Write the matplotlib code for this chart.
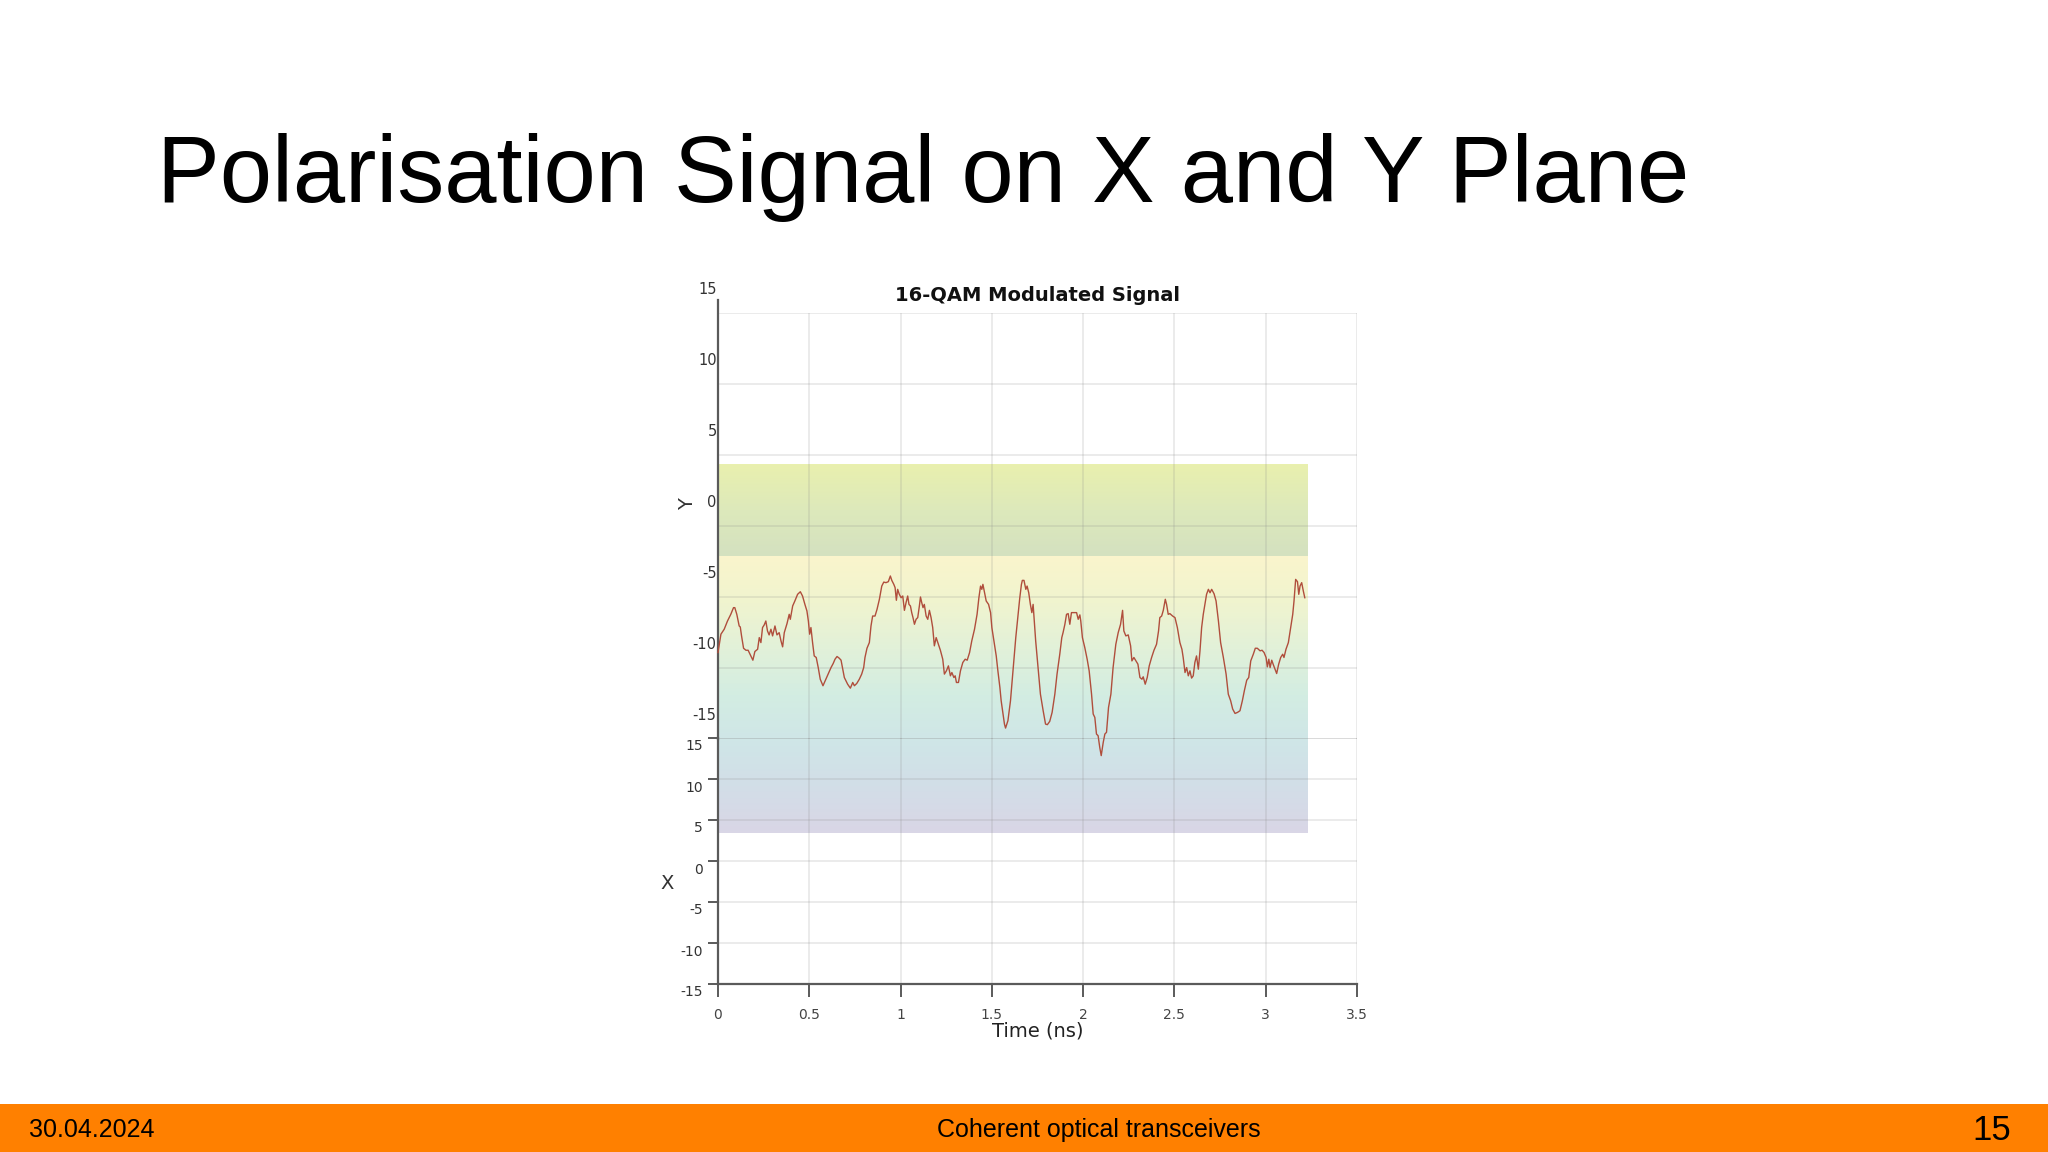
import numpy as np
import matplotlib
matplotlib.use("Agg")
import matplotlib.pyplot as plt
from matplotlib.colors import LinearSegmentedColormap
from matplotlib.transforms import ScaledTranslation
from matplotlib.patches import Rectangle

# signal (time in ns, amplitude on the Y plane)
time_ns = [
    0.000, 0.016, 0.034, 0.052, 0.070, 0.085, 0.092, 0.103, 0.116, 0.122,
    0.129, 0.140, 0.153, 0.165, 0.180, 0.191, 0.202, 0.217, 0.226, 0.235,
    0.244, 0.253, 0.262, 0.271, 0.280, 0.290, 0.299, 0.312, 0.323, 0.335,
    0.345, 0.354, 0.363, 0.378, 0.390, 0.396, 0.409, 0.421, 0.436, 0.451,
    0.463, 0.476, 0.487, 0.495, 0.502, 0.509, 0.518, 0.527, 0.538, 0.549,
    0.560, 0.575, 0.591, 0.604, 0.619, 0.631, 0.641, 0.652, 0.664, 0.674,
    0.683, 0.692, 0.710, 0.725, 0.738, 0.747, 0.760, 0.774, 0.787, 0.798,
    0.805, 0.816, 0.829, 0.838, 0.847, 0.860, 0.871, 0.884, 0.897, 0.908,
    0.920, 0.933, 0.944, 0.952, 0.963, 0.970, 0.977, 0.984, 0.993, 1.003,
    1.012, 1.021, 1.030, 1.039, 1.046, 1.054, 1.061, 1.068, 1.076, 1.085,
    1.094, 1.103, 1.109, 1.116, 1.123, 1.130, 1.140, 1.149, 1.158, 1.167,
    1.176, 1.185, 1.195, 1.204, 1.218, 1.231, 1.240, 1.251, 1.262, 1.273,
    1.281, 1.292, 1.299, 1.306, 1.317, 1.328, 1.341, 1.354, 1.365, 1.378,
    1.390, 1.405, 1.419, 1.429, 1.438, 1.445, 1.451, 1.460, 1.469, 1.482,
    1.493, 1.500, 1.511, 1.524, 1.533, 1.544, 1.551, 1.560, 1.569, 1.575,
    1.588, 1.602, 1.620, 1.631, 1.643, 1.653, 1.662, 1.667, 1.676, 1.686,
    1.693, 1.702, 1.711, 1.719, 1.726, 1.731, 1.740, 1.753, 1.766, 1.781,
    1.794, 1.804, 1.817, 1.830, 1.845, 1.857, 1.872, 1.883, 1.890, 1.900,
    1.909, 1.918, 1.927, 1.936, 1.949, 1.964, 1.973, 1.982, 1.987, 1.996,
    2.009, 2.022, 2.033, 2.046, 2.055, 2.064, 2.073, 2.082, 2.091, 2.099,
    2.110, 2.119, 2.128, 2.139, 2.152, 2.164, 2.179, 2.192, 2.205, 2.216,
    2.223, 2.234, 2.247, 2.260, 2.267, 2.278, 2.289, 2.300, 2.311, 2.322,
    2.329, 2.340, 2.351, 2.362, 2.375, 2.388, 2.402, 2.413, 2.420, 2.430,
    2.439, 2.450, 2.457, 2.466, 2.475, 2.490, 2.503, 2.516, 2.530, 2.541,
    2.548, 2.558, 2.567, 2.576, 2.585, 2.594, 2.603, 2.612, 2.621, 2.631,
    2.640, 2.649, 2.658, 2.667, 2.676, 2.686, 2.695, 2.704, 2.717, 2.728,
    2.741, 2.753, 2.768, 2.783, 2.795, 2.808, 2.819, 2.832, 2.845, 2.859,
    2.872, 2.883, 2.896, 2.907, 2.918, 2.932, 2.943, 2.954, 2.969, 2.980,
    2.991, 3.002, 3.009, 3.017, 3.024, 3.033, 3.042, 3.051, 3.060, 3.071,
    3.082, 3.093, 3.100, 3.111, 3.124, 3.137, 3.148, 3.155, 3.164, 3.174,
    3.181, 3.188, 3.197, 3.206, 3.214,
]
y_signal = [
    -8.91, -7.62, -7.27, -6.69, -6.22, -5.75, -5.75, -6.22, -7.04, -7.11,
    -7.74, -8.61, -8.75, -8.75, -9.15, -9.45, -8.84, -8.68, -7.86, -8.21,
    -7.15, -6.97, -6.69, -7.39, -7.67, -7.27, -7.74, -7.04, -7.67, -7.51,
    -8.09, -8.51, -7.51, -6.87, -6.22, -6.57, -5.63, -5.28, -4.81, -4.63,
    -4.93, -5.52, -5.98, -6.69, -7.62, -7.15, -8.21, -9.15, -9.26, -9.97,
    -10.79, -11.25, -10.79, -10.43, -9.97, -9.68, -9.38, -9.19, -9.31, -9.45,
    -10.08, -10.67, -11.14, -11.42, -11.02, -11.25, -11.09, -10.79, -10.43, -9.97,
    -9.26, -8.61, -8.21, -7.04, -6.34, -6.34, -5.87, -5.16, -4.23, -3.95,
    -3.99, -3.92, -3.52, -3.83, -4.11, -4.34, -5.23, -4.46, -4.81, -5.05,
    -4.93, -5.94, -5.40, -4.93, -5.52, -5.63, -6.10, -6.45, -6.92, -6.57,
    -6.45, -5.63, -5.00, -5.40, -5.75, -5.52, -6.34, -6.57, -5.94, -6.45,
    -7.15, -8.44, -7.86, -8.21, -8.75, -9.38, -10.43, -10.20, -9.85, -10.55,
    -10.32, -10.67, -10.55, -11.02, -11.02, -10.20, -9.61, -9.38, -9.45, -8.91,
    -8.09, -7.27, -6.22, -5.05, -4.23, -4.46, -4.11, -4.70, -5.28, -5.52,
    -6.10, -7.15, -8.09, -9.15, -10.20, -11.37, -12.31, -13.13, -13.95, -14.23,
    -13.71, -12.31, -9.50, -7.86, -6.34, -5.05, -4.11, -3.83, -3.83, -4.46,
    -4.23, -4.70, -5.52, -6.10, -5.52, -6.45, -8.09, -9.97, -11.84, -13.01,
    -13.95, -13.99, -13.76, -13.13, -11.84, -10.43, -9.03, -7.86, -7.51, -6.92,
    -6.22, -6.17, -6.92, -6.10, -6.10, -6.10, -6.57, -6.26, -6.69, -7.86,
    -8.56, -9.38, -10.20, -11.84, -13.24, -13.48, -14.65, -14.77, -15.59, -16.17,
    -15.24, -14.65, -14.53, -12.78, -11.84, -9.97, -8.33, -7.51, -6.92, -5.94,
    -7.39, -7.74, -7.67, -8.44, -9.50, -9.26, -9.50, -9.73, -10.67, -10.79,
    -10.62, -11.14, -10.67, -9.85, -9.26, -8.75, -8.33, -7.39, -6.45, -6.34,
    -5.94, -5.16, -5.52, -6.22, -6.17, -6.34, -6.45, -7.15, -8.21, -8.68,
    -9.26, -10.32, -9.97, -10.55, -10.20, -10.71, -10.55, -9.61, -9.15, -10.08,
    -8.79, -7.15, -6.22, -5.52, -4.81, -4.46, -4.70, -4.46, -4.77, -5.28,
    -6.69, -8.21, -9.26, -10.43, -11.84, -12.31, -12.89, -13.20, -13.13, -13.01,
    -12.31, -11.60, -10.86, -10.67, -9.50, -9.03, -8.61, -8.61, -8.79, -8.75,
    -8.91, -9.26, -9.92, -9.38, -9.97, -9.45, -9.78, -10.08, -10.39, -9.73,
    -9.26, -9.03, -9.26, -8.68, -8.21, -7.15, -6.22, -5.28, -3.76, -3.92,
    -4.81, -4.23, -3.99, -4.58, -5.05,
]

y_ticks = [15, 10, 5, 0, -5, -10, -15]
y_tick_labels = ["15", "10", "5", "0", "-5", "-10", "-15"]
x_ticks = [0, 0.5, 1, 1.5, 2, 2.5, 3, 3.5]
x_tick_labels = ["0", "0.5", "1", "1.5", "2", "2.5", "3", "3.5"]

page_title = "Polarisation Signal on X and Y Plane"
chart_title = "16-QAM Modulated Signal"
footer_date = "30.04.2024"
footer_topic = "Coherent optical transceivers"
footer_page = "15"

plt.rcParams["font.family"] = "DejaVu Sans"

fig = plt.figure(figsize=(20.48, 11.52), dpi=100)
fig.patch.set_facecolor("white")

W, H = 2048, 1152
ax_top = fig.add_axes([718 / W, 1 - 739 / H, 639 / W, 426 / H])
ax_bot = fig.add_axes([718 / W, 1 - 984 / H, 639 / W, 246 / H])
ax_bot.patch.set_alpha(0)

grid_kw = dict(color="#8a8a8a", alpha=0.2, linewidth=1.2)

for ax in (ax_top, ax_bot):
    ax.set_xlim(0, 3.5)
    ax.set_ylim(-15, 15)
    ax.set_xticks(x_ticks)
    ax.set_yticks(y_ticks)
    ax.set_yticklabels(y_tick_labels)
    ax.grid(True, **grid_kw)
    ax.set_axisbelow(True)
    ax.spines["top"].set_visible(False)
    ax.spines["right"].set_visible(False)
    ax.spines["left"].set_color("#5a5a5a")
    ax.spines["left"].set_linewidth(1.6)

# top (Y) panel
ax_top.spines["bottom"].set_visible(False)
ax_top.spines["left"].set_bounds(-15, 15.9)
ax_top.tick_params(axis="x", length=0, labelbottom=False)
ax_top.tick_params(axis="y", length=0, pad=1, labelsize=10.5, labelcolor="#333333")
shift_up = ScaledTranslation(0, 25 / 100, fig.dpi_scale_trans)
for lab in ax_top.get_yticklabels():
    lab.set_transform(lab.get_transform() + shift_up)
ax_top.set_ylabel("Y", fontsize=14, color="#333333", va="center")
ax_top.yaxis.set_label_coords(-0.047, 0.552)

# colour wash behind the trace
band = LinearSegmentedColormap.from_list("band", ["#e9f0ae", "#dde9bb", "#d4e1c0"])
fade = LinearSegmentedColormap.from_list(
    "fade", ["#faf4cc", "#f0f4cf", "#e2f1d9", "#d3ede2", "#cfe6e7", "#d2dee8", "#d9d6e6"]
)
rows = np.vstack([band(np.linspace(0, 1, 100)), fade(np.linspace(0, 1, 300))])[:, :3]
wash = np.repeat(rows[:, None, :], 4, axis=1)
img = ax_top.imshow(wash, extent=[0, 3.23, -21.6, 4.37], aspect="auto",
                    interpolation="nearest", zorder=0.2)
img.set_clip_on(False)
ax_top.set_xlim(0, 3.5)
ax_top.set_ylim(-15, 15)

ax_top.plot(time_ns, y_signal, color="#b04e3c", linewidth=1.0, zorder=3, clip_on=False)
ax_top.text(0.5, 1.040, chart_title, transform=ax_top.transAxes, ha="center",
            va="center", fontsize=14, fontweight="bold", color="#111111")

# bottom (X) panel
ax_bot.spines["bottom"].set_color("#5a5a5a")
ax_bot.spines["bottom"].set_linewidth(1.6)
ax_bot.set_xticklabels(x_tick_labels)
ax_bot.tick_params(axis="x", length=9, width=1.4, color="#5a5a5a", pad=8,
                   labelsize=10, labelcolor="#444444")
ax_bot.tick_params(axis="y", length=7, width=1.4, color="#5a5a5a", pad=4,
                   labelsize=10, labelcolor="#333333")
shift_down = ScaledTranslation(0, -7 / 100, fig.dpi_scale_trans)
for lab in ax_bot.get_yticklabels():
    lab.set_transform(lab.get_transform() + shift_down)
ax_bot.set_ylabel("X", fontsize=14, color="#333333", rotation=0, va="center", ha="center")
ax_bot.yaxis.set_label_coords(-0.080, 0.407)
ax_bot.set_xlabel("Time (ns)", fontsize=14, color="#222222")
ax_bot.xaxis.set_label_coords(0.50, -0.154)

# slide decoration
fig.text(157 / W, 1 - 202 / H, page_title, fontsize=67.6, family="Liberation Sans",
         va="baseline", ha="left", color="black")
fig.add_artist(Rectangle((0, 0), 1, 48 / H, transform=fig.transFigure,
                         facecolor="#ff8000", edgecolor="none", zorder=5))
fig.text(29 / W, 1 - 1130 / H, footer_date, fontsize=18, family="Liberation Sans",
         va="center", ha="left", zorder=6)
fig.text(1099 / W, 1 - 1130 / H, footer_topic, fontsize=18, family="Liberation Sans",
         va="center", ha="center", zorder=6)
fig.text(2011 / W, 1 - 1130 / H, footer_page, fontsize=25, family="Liberation Sans",
         va="center", ha="right", zorder=6)

fig.savefig("out.png", dpi=100)
